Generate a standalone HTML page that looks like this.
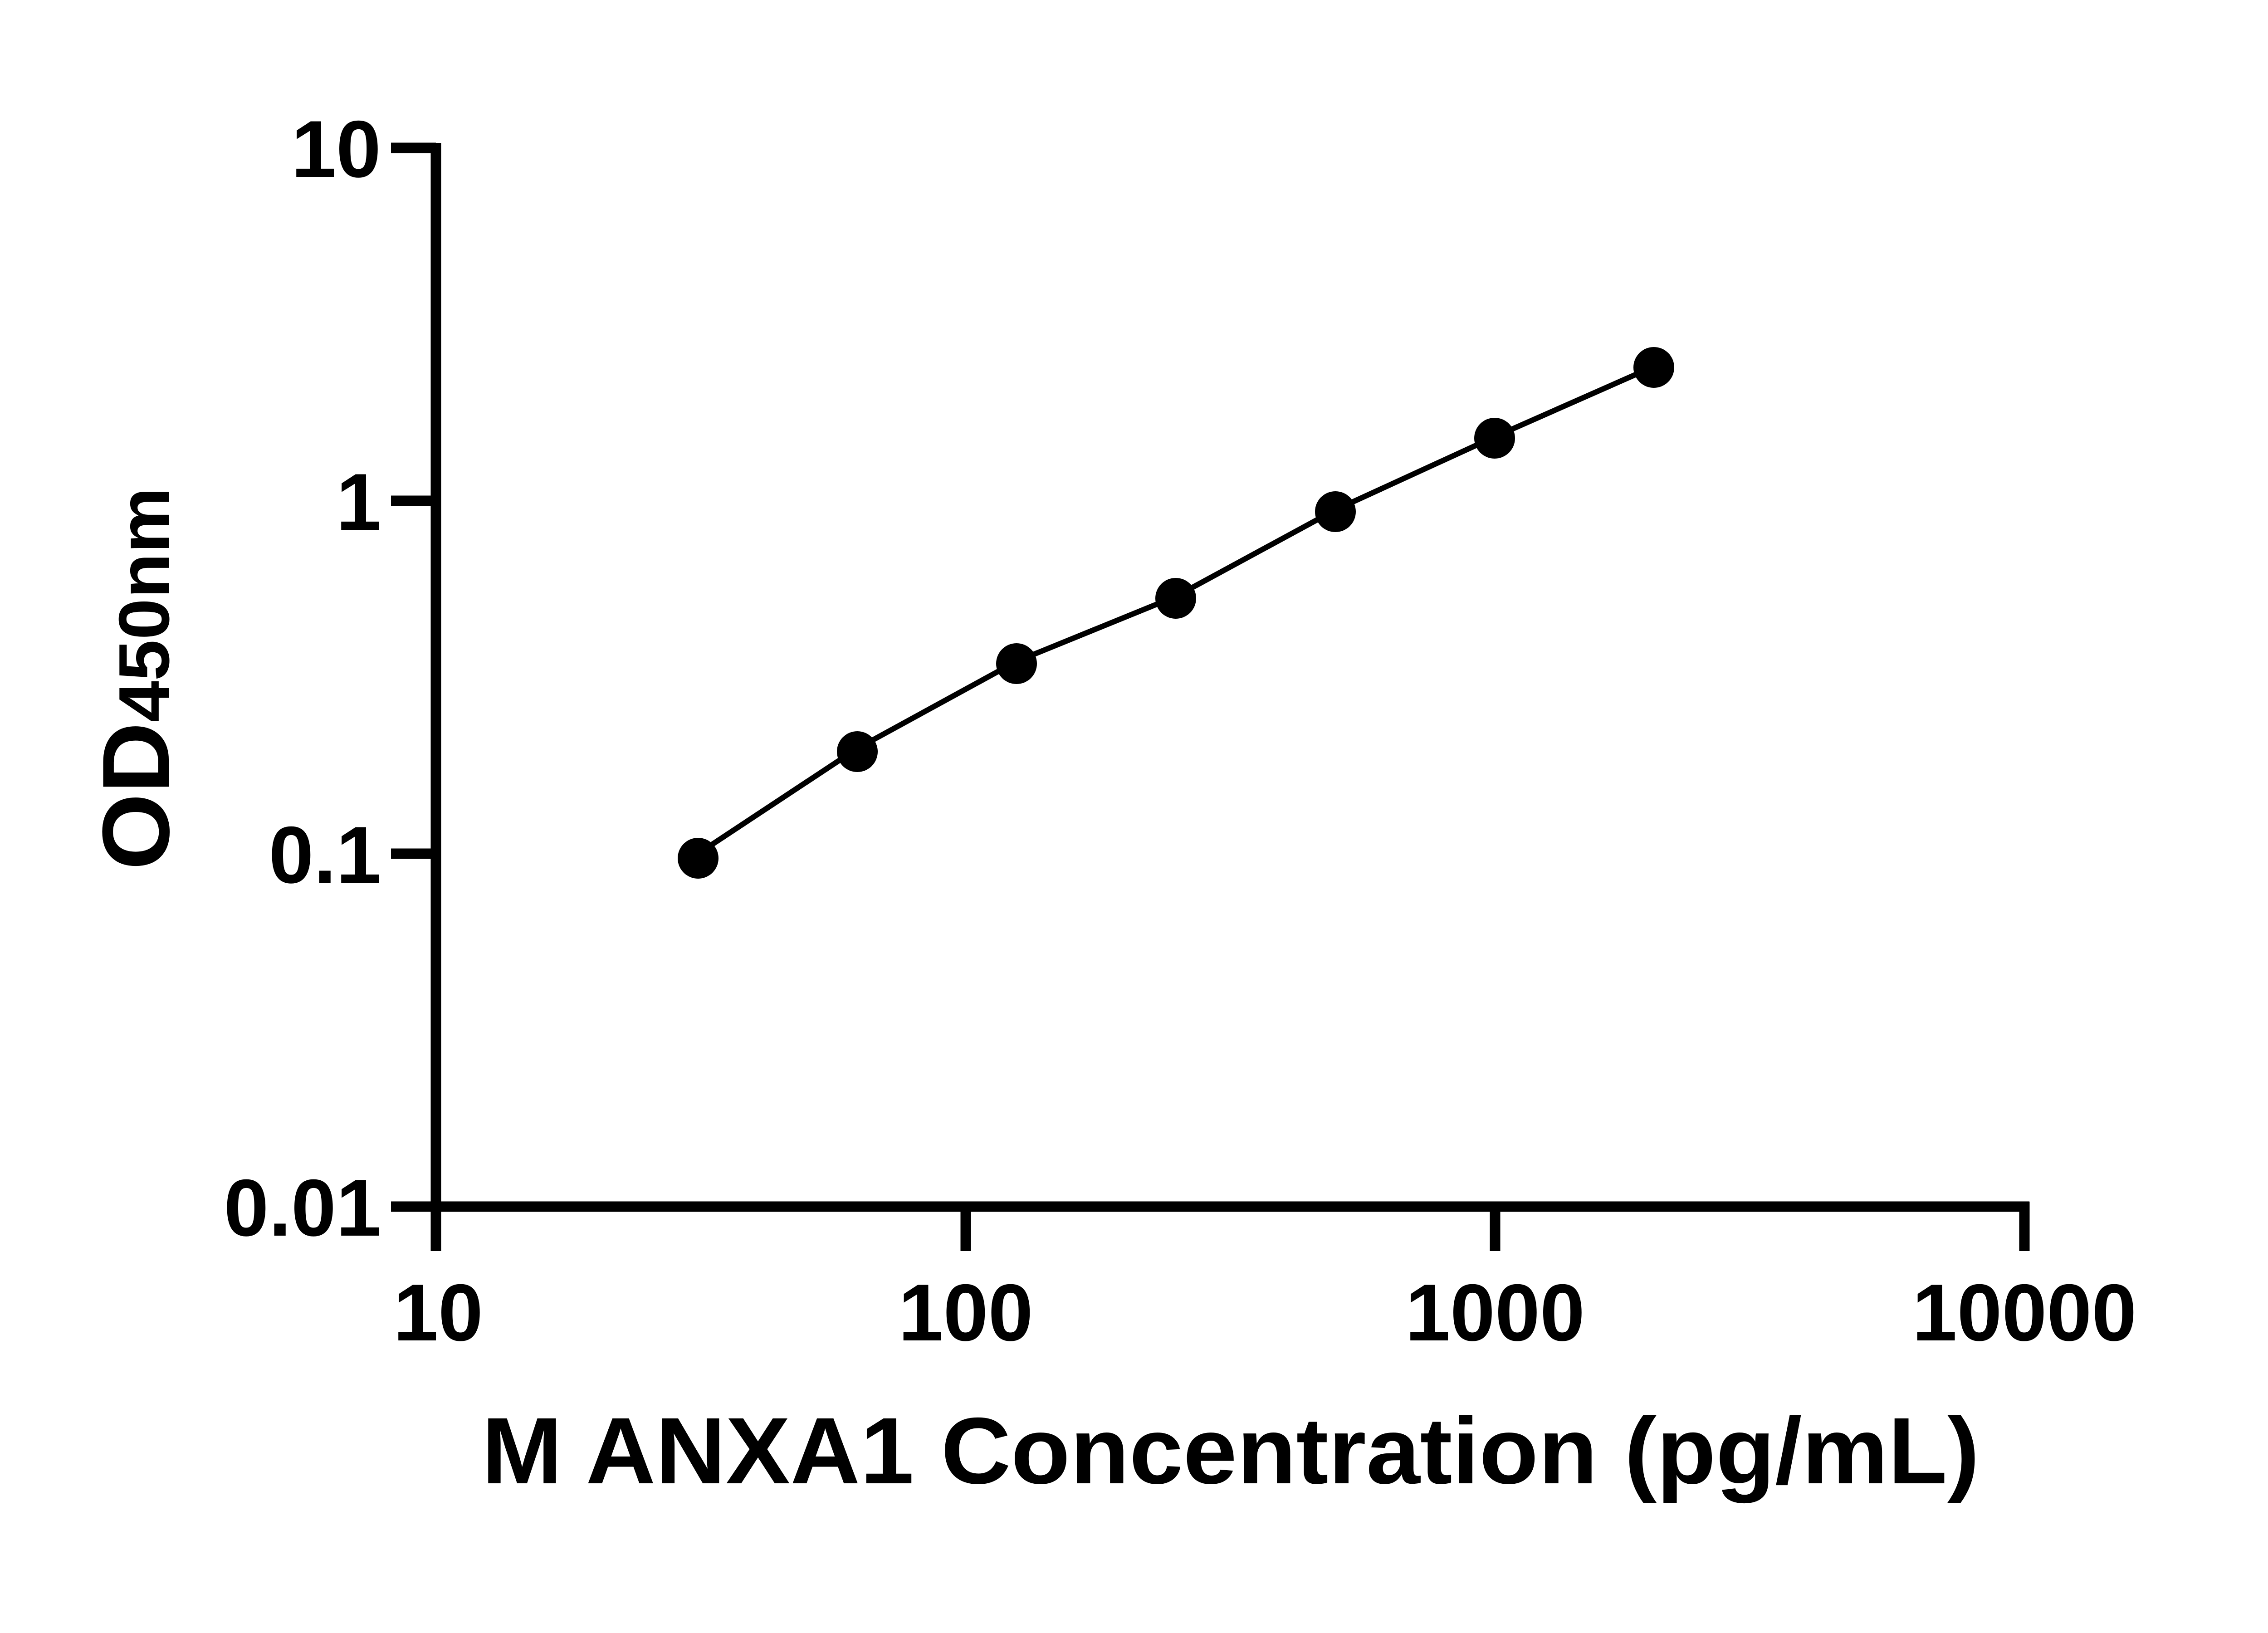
<!DOCTYPE html>
<html><head><meta charset="utf-8"><style>html,body{margin:0;padding:0;background:#fff}svg{display:block}</style></head>
<body>
<svg width="5142" height="3600" viewBox="0 0 5142 3600" xmlns="http://www.w3.org/2000/svg">
<rect width="5142" height="3600" fill="#fff"/>
<g stroke="#000" stroke-width="23" fill="none" stroke-linecap="butt">
<line x1="961" y1="315" x2="961" y2="2758"/>
<line x1="862" y1="2660" x2="4474" y2="2660"/>
<line x1="862" y1="326" x2="961" y2="326"/>
<line x1="862" y1="1104" x2="961" y2="1104"/>
<line x1="862" y1="1882" x2="961" y2="1882"/>
<line x1="2129" y1="2660" x2="2129" y2="2758"/>
<line x1="3296" y1="2660" x2="3296" y2="2758"/>
<line x1="4463" y1="2649" x2="4463" y2="2758"/>
</g>
<g font-family="Liberation Sans, Arial, sans-serif" font-weight="bold" font-size="178" fill="#000">
<text x="840" y="390" text-anchor="end">10</text>
<text x="840" y="1168" text-anchor="end">1</text>
<text x="840" y="1946" text-anchor="end">0.1</text>
<text x="840" y="2724" text-anchor="end">0.01</text>
<text x="966" y="2955" text-anchor="middle">10</text>
<text x="2129" y="2955" text-anchor="middle">100</text>
<text x="3296" y="2955" text-anchor="middle">1000</text>
<text x="4463" y="2955" text-anchor="middle">10000</text>
</g>
<polyline fill="none" stroke="#000" stroke-width="12" points="1539,1882 1890,1650 2241,1458 2592,1315 2944,1124 3295,963 3646,808"/>
<g fill="#000">
<circle cx="1539" cy="1892" r="45"/>
<circle cx="1890" cy="1657" r="45"/>
<circle cx="2241" cy="1463" r="45"/>
<circle cx="2592" cy="1319" r="45"/>
<circle cx="2944" cy="1128" r="45"/>
<circle cx="3295" cy="966" r="45"/>
<circle cx="3646" cy="810" r="45"/>
</g>
<text transform="translate(372,1918) rotate(-90)" font-family="Liberation Sans, Arial, sans-serif" font-weight="bold" fill="#000" textLength="844" lengthAdjust="spacingAndGlyphs"><tspan font-size="210">OD</tspan><tspan font-size="158">450nm</tspan></text>
<text x="2713" y="3270" text-anchor="middle" font-family="Liberation Sans, Arial, sans-serif" font-weight="bold" font-size="208" textLength="3302" lengthAdjust="spacingAndGlyphs" fill="#000">M ANXA1 Concentration (pg/mL)</text>
</svg>
</body></html>
